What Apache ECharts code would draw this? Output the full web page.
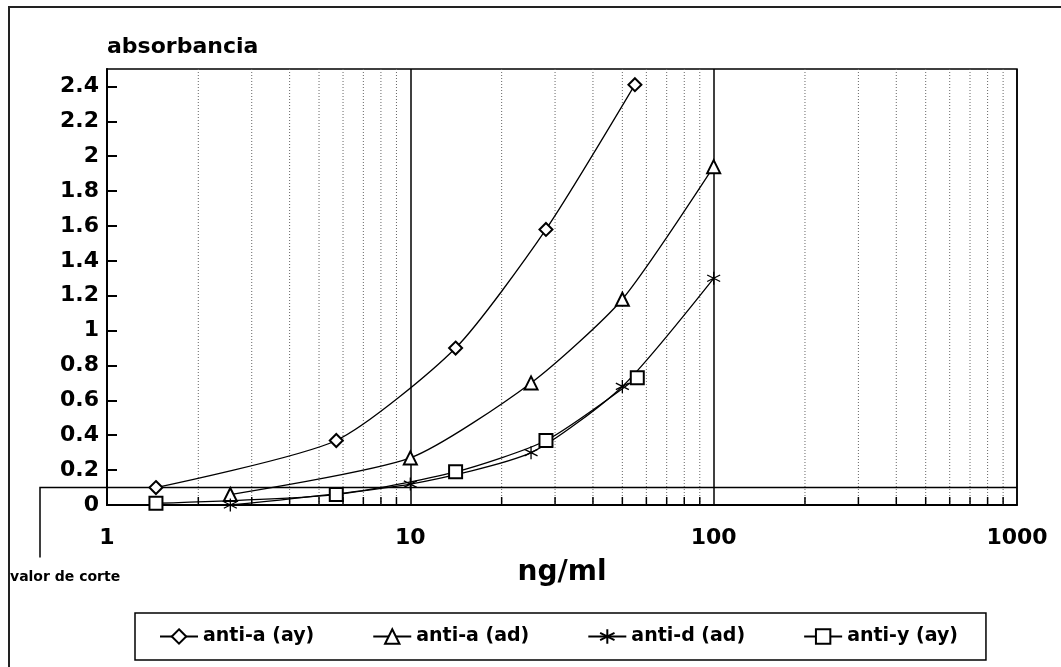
<!DOCTYPE html>
<html>
<head>
<meta charset="utf-8">
<script src="https://cdn.jsdelivr.net/npm/echarts@6/dist/echarts.min.js"></script>
<style>
html,body{margin:0;padding:0;background:#fff;}
#c{width:1061px;height:667px;}
</style>
</head>
<body>
<div id="c"></div>
<script>
// ---- data ----
const seriesNames = ['anti-a (ay)', 'anti-a (ad)', 'anti-d (ad)', 'anti-y (ay)'];
const antiA_ay_x = [1.45, 5.7, 14.1, 28, 55];
const antiA_ay_y = [0.10, 0.37, 0.90, 1.58, 2.41];
const antiA_ad_x = [2.55, 10, 25, 50, 100];
const antiA_ad_y = [0.06, 0.27, 0.70, 1.18, 1.94];
const antiD_ad_x = [2.55, 10, 25, 50, 100];
const antiD_ad_y = [0.00, 0.12, 0.30, 0.68, 1.30];
const antiY_ay_x = [1.45, 5.7, 14.1, 28, 56];
const antiY_ay_y = [0.01, 0.06, 0.19, 0.37, 0.73];
const xMinorTicks = [2,3,4,5,6,7,8,9,20,30,40,50,60,70,80,90,200,300,400,500,600,700,800,900];
const X_MIN = 1, X_MAX = 1000;
const Y_MIN = 0, Y_MAX = 2.5, Y_STEP = 0.2;
const CUTOFF = 0.1;
const yAxisTitle = 'absorbancia';
const xAxisTitle = 'ng/ml';
const cutoffLabel = 'valor de corte';

const FONT = '"DejaVu Sans", "Liberation Sans", Arial, sans-serif';
const pairs = (xs, ys) => xs.map((x, i) => [x, ys[i]]);
const asterisk = 'path://M10,0 L10,20 M1.34,5 L18.66,15 M1.34,15 L18.66,5';

const lineSeries = (name, data, symbol) => ({
  name, type: 'line', data, symbol, symbolSize: 13, smooth: 0.22,
  showAllSymbol: true,
  lineStyle: {color: '#000', width: 1.3},
  itemStyle: {color: '#000', borderColor: '#000', borderWidth: 1.3},
  z: 5
});

const chart = echarts.init(document.getElementById('c'), null, {renderer: 'canvas'});
chart.setOption({
  backgroundColor: '#fff',
  animation: false,
  grid: {left: 107, right: 44, top: 69, bottom: 162, show: true, borderColor: '#000', borderWidth: 1.5},
  xAxis: {
    type: 'log', logBase: 10, min: X_MIN, max: X_MAX,
    name: xAxisTitle, nameLocation: 'middle', nameGap: 54,
    nameTextStyle: {fontFamily: FONT, fontWeight: 'bold', fontSize: 28, color: '#000'},
    axisLine: {lineStyle: {color: '#000', width: 2}},
    axisTick: {show: false},
    axisLabel: {fontFamily: FONT, fontWeight: 'bold', fontSize: 22, color: '#000', margin: 22,
      formatter: v => String(Math.round(v))},
    splitLine: {show: true, lineStyle: {color: '#000', width: 1.5}}
  },
  yAxis: {
    type: 'value', min: Y_MIN, max: Y_MAX, interval: Y_STEP,
    name: yAxisTitle, nameLocation: 'end', nameGap: 11,
    nameTextStyle: {fontFamily: FONT, fontWeight: 'bold', fontSize: 22, color: '#000', align: 'left'},
    axisLine: {show: true, lineStyle: {color: '#000', width: 2}},
    axisTick: {show: true, inside: true, length: 10, lineStyle: {color: '#000', width: 2}},
    axisLabel: {fontFamily: FONT, fontWeight: 'bold', fontSize: 22, color: '#000', margin: 8,
      showMaxLabel: false,
      formatter: v => String(Math.round(v * 10) / 10)},
    splitLine: {show: false}
  },
  legend: {
    left: 135, top: 613, orient: 'horizontal',
    itemWidth: 38, itemHeight: 18, itemGap: 58,
    padding: [14, 28, 14, 24],
    borderColor: '#000', borderWidth: 1.5,
    textStyle: {fontFamily: FONT, fontWeight: 'bold', fontSize: 19, color: '#000'},
    data: seriesNames
  },
  graphic: [
    {type: 'polyline', shape: {points: [[9, 667], [9, 7], [1061, 7]]}, style: {stroke: '#222', lineWidth: 2, fill: null}},
    {type: 'text', left: 10, top: 570, style: {text: cutoffLabel, font: 'bold 14px ' + FONT, fill: '#000'}}
  ],
  series: [
    {
      type: 'custom', silent: true, z: 1, clip: false,
      data: xMinorTicks.map(v => [v, 0]),
      renderItem: (params, api) => {
        const v = api.value(0);
        const top = api.coord([v, Y_MAX]);
        const bot = api.coord([v, Y_MIN]);
        return {type: 'group', children: [
          {type: 'line', shape: {x1: top[0], y1: top[1], x2: bot[0], y2: bot[1]},
           style: {stroke: '#666', lineWidth: 1, lineDash: [1, 2]}},
          {type: 'line', shape: {x1: bot[0], y1: bot[1], x2: bot[0], y2: bot[1] - 8},
           style: {stroke: '#000', lineWidth: 1.5}}
        ]};
      }
    },
    {
      type: 'custom', silent: true, z: 2, clip: false,
      data: [[X_MAX, CUTOFF]],
      renderItem: (params, api) => {
        const p = api.coord([X_MAX, CUTOFF]);
        return {type: 'polyline', shape: {points: [[p[0], p[1]], [40, p[1]], [40, p[1] + 70]]},
          style: {stroke: '#000', lineWidth: 1.5, fill: null}};
      }
    },
    lineSeries(seriesNames[0], pairs(antiA_ay_x, antiA_ay_y), 'emptyDiamond'),
    lineSeries(seriesNames[1], pairs(antiA_ad_x, antiA_ad_y), 'emptyTriangle'),
    lineSeries(seriesNames[2], pairs(antiD_ad_x, antiD_ad_y), asterisk),
    lineSeries(seriesNames[3], pairs(antiY_ay_x, antiY_ay_y), 'emptyRect')
  ]
});
</script>
</body>
</html>
